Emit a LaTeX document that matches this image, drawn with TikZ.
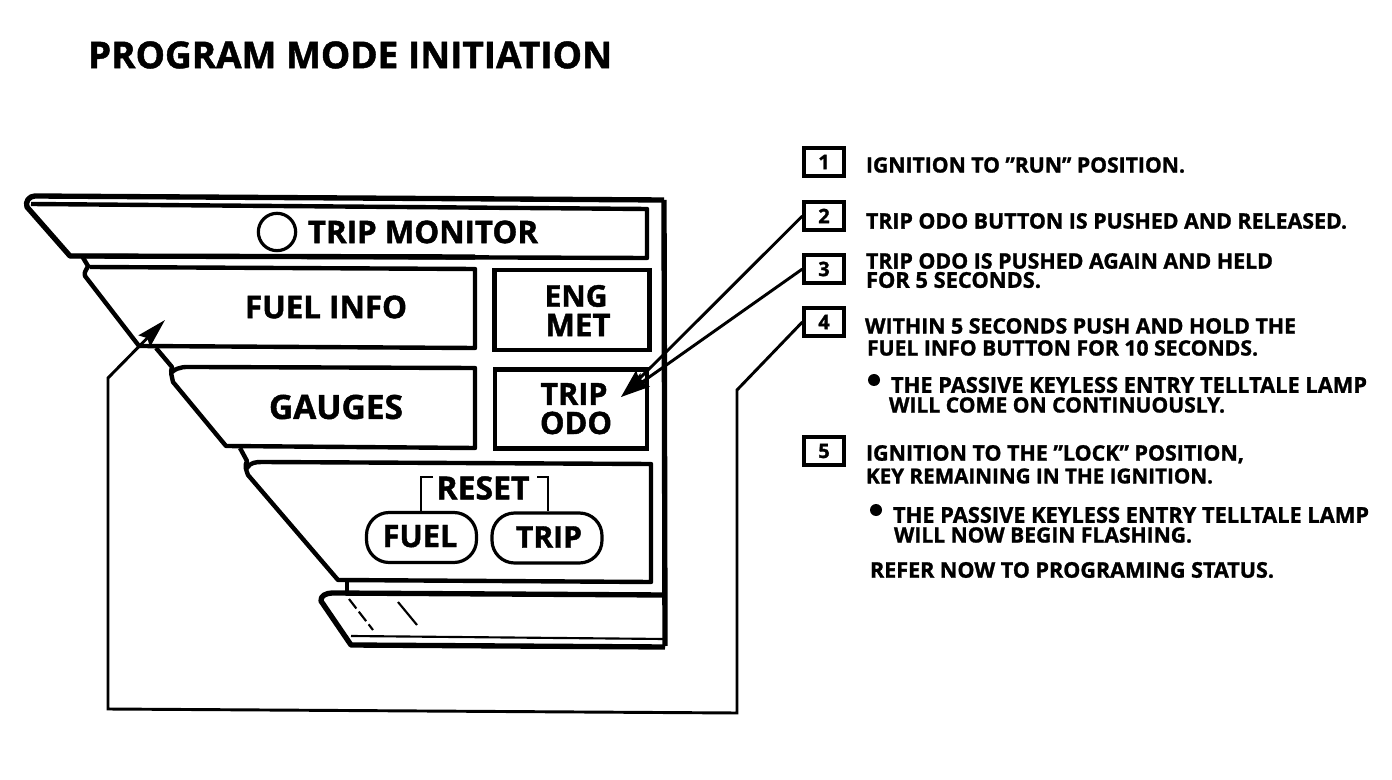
\documentclass[tikz,border=0pt]{standalone}
\usepackage{fontspec}
\usepackage{graphicx}
\setmainfont{Open Sans}[BoldFeatures={FakeBold=1.3}]
\usetikzlibrary{arrows.meta}
\newcommand{\fit}[2]{\resizebox{#1\dimexpr0.75pt\relax}{!}{\bfseries\raisebox{0pt}[0.714em][0pt]{#2}}}
\tikzset{
  heavy/.style={line width=4pt,line join=round},
  medium/.style={line width=3.3pt,line join=round},
  thinl/.style={line width=2.2pt,line join=miter},
  lead/.style={line width=2.2pt,-{Stealth[length=22pt,width=12pt,inset=3pt]}},
  txt/.style={inner sep=0pt,outer sep=0pt,anchor=west,text=black},
  ctr/.style={inner sep=0pt,outer sep=0pt,text=black},
  numbox/.style={draw,line width=2.4pt,minimum width=30pt,minimum height=21pt,inner sep=0pt,font=\bfseries\fontsize{15}{15}\selectfont},
  pill/.style={draw,line width=2.4pt,rounded corners=17pt,minimum width=82.5pt,minimum height=37.5pt,inner sep=0pt},
}
\begin{document}
\begin{tikzpicture}[x=0.75pt,y=-0.75pt]
\useasboundingbox (0,0) rectangle (1392,780);
\node[txt] (title) at (88,55) {\fit{524}{PROGRAM MODE INITIATION}};
% outer panel
\draw[heavy] (664,200) -- (35,196) to[out=180,in=110,looseness=1.1] (27,207) -- (70,256) -- (475,257);
\draw[heavy] (664,200) -- (665,646);
\draw[medium] (31,204) -- (647,209) -- (647,258) -- (70,256);
\node[draw,line width=2.4pt,circle,minimum size=28pt,inner sep=0pt] (lamp) at (277,232) {};
\node[txt] (tm) at (308,232) {\fit{230}{TRIP MONITOR}};
% fuel info
\draw[medium] (82,256) -- (88,266) to[out=250,in=110] (85,276) -- (139,346) -- (475,348) -- (475,269) -- (90,267);
\node[ctr] (fuel) at (326,307) {\fit{162}{FUEL INFO}};
% eng met
\node[draw,line width=3.3pt,inner sep=0pt,minimum width=116pt,minimum height=60pt] (eng) at (572,310) {};
\node[ctr] (eng1) at (576,296) {\fit{63}{ENG}};
\node[ctr] (eng2) at (578,325) {\fit{65}{MET}};
% gauges
\draw[medium] (156,348) -- (172,367) to[out=250,in=100] (173,382) -- (226,446) -- (475,448) -- (475,368) -- (195,367) to[out=180,in=40] (172,372);
\node[ctr] (gauges) at (336,407) {\fit{134}{GAUGES}};
% trip odo
\node[draw,line width=3.3pt,inner sep=0pt,minimum width=114pt,minimum height=59pt] (odo) at (571,409) {};
\node[ctr] (odo1) at (574,394) {\fit{67}{TRIP}};
\node[ctr] (odo2) at (576,423) {\fit{72}{ODO}};
% reset panel
\draw[medium] (240,448) -- (247,461) to[out=240,in=110] (248,475) -- (338,580) -- (651,582) -- (651,464) -- (262,462) to[out=180,in=60] (247,468);
\node[ctr] (reset) at (483,488) {\fit{93}{RESET}};
\node[pill] (rfuel) at (421.5,537.5) {};
\node[pill] (rtrip) at (547,538) {};
\node[ctr] (ftext) at (420,536) {\fit{75}{FUEL}};
\node[ctr] (ttext) at (549,537) {\fit{66}{TRIP}};
\coordinate (rc) at (421,477); \coordinate (rd) at (548,477);
\coordinate (re) at (433,477); \coordinate (rf) at (537,477);
\draw[thinl] (re) -- (rc) -- (rc |- rfuel.north);
\draw[thinl] (rf) -- (rd) -- (rd |- rtrip.north);
% bottom strip
\draw[medium] (347,582) -- (347,592);
\draw[heavy] (665,595) -- (332,593) to[out=180,in=100] (321,601) -- (351,645) -- (665,647);
\draw[line width=1.6pt] (351,636) -- (665,639);
\draw[line width=1.6pt,dash pattern=on 9pt off 3pt] (349,599) -- (373,630);
\draw[line width=1.6pt] (398,602) -- (417,625);
% step boxes
\node[numbox] (b1) at (824,162) {\raisebox{-0.5pt}{1}};
\node[numbox] (b2) at (824,216) {\raisebox{-0.5pt}{2}};
\node[numbox] (b3) at (824,269) {\raisebox{-0.5pt}{3}};
\node[numbox] (b4) at (824,322) {\raisebox{-0.5pt}{4}};
\node[numbox] (b5) at (824,451) {\raisebox{-0.5pt}{5}};
\coordinate (tipodo) at (621,397);
\coordinate (tipfuel) at (165,320);
\coordinate (l1) at (737,390);
\coordinate (l2) at (737,713);
\coordinate (l3) at (108,709);
\coordinate (l4) at (108,378);
\draw[lead] (b2.west) -- (tipodo);
\draw[lead] (b3.west) -- (tipodo);
\draw[lead] (b4.west) -- (l1) -- (l2) -- (l3) -- (l4) -- (tipfuel);
% texts
\node[txt] (s1) at (866,165) {\fit{319}{IGNITION TO "RUN" POSITION.}};
\node[txt] (s2) at (866,221) {\fit{481}{TRIP ODO BUTTON IS PUSHED AND RELEASED.}};
\node[txt] (s3a) at (866,261) {\fit{407}{TRIP ODO IS PUSHED AGAIN AND HELD}};
\node[txt] (s3b) at (866,280) {\fit{175}{FOR 5 SECONDS.}};
\node[txt] (s4a) at (865,326) {\fit{431}{WITHIN 5 SECONDS PUSH AND HOLD THE}};
\node[txt] (s4b) at (867,348) {\fit{391}{FUEL INFO BUTTON FOR 10 SECONDS.}};
\node[circle,fill,minimum size=9pt,inner sep=0pt] (d1) at (874,380) {};
\node[txt] (s4c) at (891,385) {\fit{476}{THE PASSIVE KEYLESS ENTRY TELLTALE LAMP}};
\node[txt] (s4d) at (889,405) {\fit{336}{WILL COME ON CONTINUOUSLY.}};
\node[txt] (s5a) at (866,453) {\fit{378}{IGNITION TO THE "LOCK" POSITION,}};
\node[txt] (s5b) at (866,476) {\fit{347}{KEY REMAINING IN THE IGNITION.}};
\node[circle,fill,minimum size=9pt,inner sep=0pt] (d2) at (876,510) {};
\node[txt] (s5c) at (893,515) {\fit{476}{THE PASSIVE KEYLESS ENTRY TELLTALE LAMP}};
\node[txt] (s5d) at (894,535) {\fit{298}{WILL NOW BEGIN FLASHING.}};
\node[txt] (s6) at (870,570) {\fit{404}{REFER NOW TO PROGRAMING STATUS.}};
\end{tikzpicture}
\end{document}
